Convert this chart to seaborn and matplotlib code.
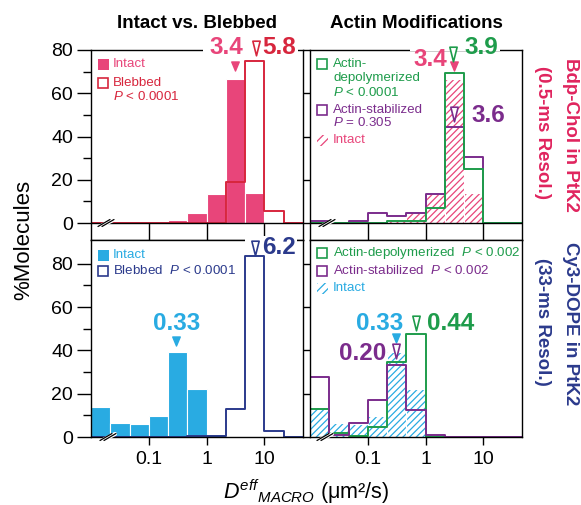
import numpy as np
import matplotlib
matplotlib.use("Agg")
import matplotlib.pyplot as plt
import matplotlib.ticker as mticker
import matplotlib.transforms as mtransforms
from matplotlib.lines import Line2D
from matplotlib.patches import Rectangle
from matplotlib.path import Path
import seaborn as sns

# 1/3-decade bins from 10^-2 to 10^(5/3) um^2/s (edges in log10 units)
log_edges = np.arange(-6, 6) / 3
centres = 10 ** ((log_edges[:-1] + log_edges[1:]) / 2)

# %Molecules per bin, Bdp-Chol (0.5-ms resolution)
bdp_intact = [0, 0, 0, 0, 1.5, 4.6, 13.4, 66.5, 13.8, 0, 0]
bdp_blebbed = [0, 0, 0, 0, 0, 0, 0, 19.0, 75.0, 5.4, 0]
bdp_depol = [0, 0, 0, 0, 1.2, 1.2, 6.9, 69.2, 24.8, 0, 0]
bdp_stab = [1.0, 0, 1.0, 4.9, 3.1, 4.9, 13.4, 44.6, 30.5, 0, 0]

# %Molecules per bin, Cy3-DOPE (33-ms resolution)
dope_intact = [13.9, 6.6, 5.8, 9.5, 39.2, 22.0, 1.5, 0, 0, 0, 0]
dope_blebbed = [0, 0, 0, 0, 0, 0.5, 0.5, 13.1, 83.6, 2.8, 0]
dope_depol = [13.0, 1.8, 0.5, 4.6, 34.6, 47.7, 0, 0, 0, 0, 0]
dope_stab = [27.7, 1.0, 6.5, 17.2, 33.4, 12.6, 0.8, 0, 0, 0, 0]

# median D values shown above the histograms
med_bdp_intact, med_bdp_blebbed = 3.4, 5.8
med_bdp_depol, med_bdp_stab = 3.9, 3.6
med_dope_intact, med_dope_blebbed = 0.33, 6.2
med_dope_depol, med_dope_stab = 0.44, 0.20

PINK = "#E8457A"
RED = "#D7263D"
CYAN = "#29ABE2"
NAVY = "#2B3A8C"
GREEN = "#1E9C4B"
PURPLE = "#7B2C8C"

sns.set_style("ticks")
plt.rcParams["font.family"] = ["Liberation Sans", "DejaVu Sans"]
plt.rcParams["mathtext.fontset"] = "custom"
plt.rcParams["mathtext.rm"] = "Liberation Sans"
plt.rcParams["mathtext.it"] = "Liberation Sans:italic"
plt.rcParams["mathtext.bf"] = "Liberation Sans:bold"
plt.rcParams["axes.edgecolor"] = "black"
plt.rcParams["axes.linewidth"] = 1.0
plt.rcParams["xtick.color"] = "black"
plt.rcParams["ytick.color"] = "black"
plt.rcParams["hatch.linewidth"] = 0.9

W, H = 581, 505
fig = plt.figure(figsize=(W / 100, H / 100), dpi=100)
# pixel coordinates measured from the top-left corner of the image
PX = mtransforms.Affine2D().scale(1 / W, -1 / H).translate(0, 1) + fig.transFigure


def px_box(x0, y0, x1, y1):
    return [x0 / W, 1 - y1 / H, (x1 - x0) / W, (y1 - y0) / H]


ax_tl = fig.add_axes(px_box(91, 50, 303, 240))
ax_tr = fig.add_axes(px_box(310, 50, 522, 240))
ax_bl = fig.add_axes(px_box(91, 240, 303, 437))
ax_br = fig.add_axes(px_box(310, 240, 522, 437))


def hist(ax, values, **kw):
    sns.histplot(x=list(centres), weights=list(values), bins=log_edges.tolist(),
                 log_scale=True, ax=ax, **kw)


def filled(ax, values, color):
    hist(ax, values, element="bars", fill=True, color=color, alpha=1,
         edgecolor="white", linewidth=0.8)


def outline(ax, values, color):
    hist(ax, values, element="step", fill=False, color=color, linewidth=1.4)


def hatched(ax, values, color):
    hist(ax, values, element="bars", fill=True, facecolor="white",
         edgecolor=color, linewidth=0, hatch="/////")
    hist(ax, values, element="bars", fill=False, color="white", linewidth=0.8)


# Bdp-Chol, intact vs blebbed
filled(ax_tl, bdp_intact, PINK)
outline(ax_tl, bdp_blebbed, RED)
# Bdp-Chol, actin modifications
hatched(ax_tr, bdp_intact, PINK)
outline(ax_tr, bdp_stab, PURPLE)
outline(ax_tr, bdp_depol, GREEN)
# Cy3-DOPE, intact vs blebbed
filled(ax_bl, dope_intact, CYAN)
outline(ax_bl, dope_blebbed, NAVY)
# Cy3-DOPE, actin modifications
hatched(ax_br, dope_intact, CYAN)
outline(ax_br, dope_depol, GREEN)
outline(ax_br, dope_stab, PURPLE)

for ax in (ax_tl, ax_tr, ax_bl, ax_br):
    ax.set_xlim(10 ** -2, 10 ** (5 / 3))
    ax.set_xlabel("")
    ax.set_ylabel("")
    ax.set_xticks([0.1, 1, 10])
    ax.xaxis.set_minor_locator(mticker.NullLocator())
    for s in ax.spines.values():
        s.set_visible(True)
        s.set_linewidth(1.0)

for ax in (ax_tl, ax_tr):
    ax.set_ylim(-7.8, 80)
    ax.axhline(0, color="black", lw=1.0, zorder=3)
    ax.tick_params(axis="x", direction="in", length=12.2, width=1.0,
                   labelbottom=False)
for ax in (ax_bl, ax_br):
    ax.set_ylim(0, 91)
    ax.tick_params(axis="x", direction="out", length=5.5, width=1.0,
                   labelsize=14, pad=4.5)
    ax.set_xticklabels(["0.1", "1", "10"])

for ax in (ax_tl, ax_bl):
    ax.set_yticks([0, 20, 40, 60, 80])
    ax.yaxis.set_minor_locator(mticker.FixedLocator([10, 30, 50, 70]))
    ax.tick_params(axis="y", which="major", direction="out", length=10,
                   width=1.0, labelsize=14, pad=3)
    ax.tick_params(axis="y", which="minor", direction="out", length=5.5,
                   width=1.0)
for ax in (ax_tr, ax_br):
    ax.set_yticks([0, 20, 40, 60, 80])
    ax.tick_params(axis="y", direction="out", length=5, width=1.0,
                   labelleft=False)
ax_tl.set_xticklabels([])
ax_tr.set_xticklabels([])


def ftext(x, y, s, color="black", size=9.6, weight="normal", ha="left",
          va="center", **kw):
    fig.text(x, y, s, transform=PX, color=color, fontsize=size,
             fontweight=weight, ha=ha, va=va, zorder=6, **kw)


def white_gap(x0, y0, x1, y1):
    fig.add_artist(Rectangle((x0, y0), x1 - x0, y1 - y0, transform=PX,
                             facecolor="white", edgecolor="none", zorder=4))


TRI_FILLED = Path([(-0.5, 0.6), (0.5, 0.6), (0, -0.6), (-0.5, 0.6)],
                  closed=True)
TRI_OPEN = Path([(-0.5, 1), (0.5, 1), (0, -1), (-0.5, 1)], closed=True)
VAL = 17.5  # size of the median labels


def median_mark(ax, value, y_px, color, solid, dx_px=0):
    # x anchored on the median value, nudged like the figure; y in pixels
    xt = ax.transData + mtransforms.ScaledTranslation(dx_px / 100, 0,
                                                     fig.dpi_scale_trans)
    tr = mtransforms.blended_transform_factory(xt, fig.transFigure)
    if solid:
        m = Line2D([value], [1 - y_px / H], marker=TRI_FILLED, ms=6.5,
                   color=color, mec=color, mfc=color, ls="none",
                   transform=tr, zorder=7)
    else:
        m = Line2D([value], [1 - y_px / H], marker=TRI_OPEN, ms=10.5,
                   color=color, mec=color, mfc="white", mew=1.2, ls="none",
                   transform=tr, zorder=7)
    fig.add_artist(m)


def square(x, y, color, solid=False, hatch=None):
    s = 11
    if hatch:
        r = Rectangle((x - s / 2, y - s / 2), s, s, transform=PX,
                      facecolor="white", edgecolor=color, linewidth=0,
                      hatch=hatch, zorder=6)
    elif solid:
        r = Rectangle((x - s / 2, y - s / 2), s, s, transform=PX,
                      facecolor=color, edgecolor=color, linewidth=0, zorder=6)
    else:
        r = Rectangle((x - s / 2 + 0.6, y - s / 2 + 0.6), s - 1.2, s - 1.2,
                      transform=PX, facecolor="white", edgecolor=color,
                      linewidth=1.2, zorder=6)
    fig.add_artist(r)


# medians, top-left
white_gap(203, 36, 298, 56)
ftext(226, 47, f"{med_bdp_intact}", PINK, VAL, "bold", ha="center")
median_mark(ax_tl, med_bdp_intact, 66, PINK, True, -2)
median_mark(ax_tl, med_bdp_blebbed, 48, RED, False, 5)
ftext(279, 47, f"{med_bdp_blebbed}", RED, VAL, "bold", ha="center")

# medians, top-right
white_gap(410, 36, 500, 50.5)
ftext(430, 59, f"{med_bdp_intact}", PINK, VAL, "bold", ha="center")
median_mark(ax_tr, med_bdp_intact, 66, PINK, True, -2.5)
median_mark(ax_tr, med_bdp_depol, 54, GREEN, False, -6.5)
ftext(481, 48, f"{med_bdp_depol}", GREEN, VAL, "bold", ha="center")
median_mark(ax_tr, med_bdp_stab, 114, PURPLE, False, -3.5)
ftext(488, 115, f"{med_bdp_stab}", PURPLE, VAL, "bold", ha="center")

# medians, bottom-left
white_gap(245, 236, 297, 244)
ftext(177, 323, f"{med_dope_intact}", CYAN, VAL, "bold", ha="center")
median_mark(ax_bl, med_dope_intact, 341, CYAN, True, -2.5)
median_mark(ax_bl, med_dope_blebbed, 248, NAVY, False, 3)
ftext(279, 247, f"{med_dope_blebbed}", NAVY, VAL, "bold", ha="center")

# medians, bottom-right
ftext(380, 323, f"{med_dope_intact}", CYAN, VAL, "bold", ha="center")
median_mark(ax_br, med_dope_intact, 338, CYAN, True, -2)
median_mark(ax_br, med_dope_stab, 351, PURPLE, False, 11)
ftext(363, 353, f"{med_dope_stab:.2f}", PURPLE, VAL, "bold", ha="center")
median_mark(ax_br, med_dope_depol, 323, GREEN, False, 11)
ftext(451, 323, f"{med_dope_depol}", GREEN, VAL, "bold", ha="center")

# legends
square(103, 64, PINK, solid=True)
ftext(113, 64, "Intact", PINK)
square(103, 83, RED)
ftext(113, 83, "Blebbed", RED)
ftext(113, 97, "$P$ < 0.0001", RED)

square(322, 64, GREEN)
ftext(333, 64, "Actin-", GREEN)
ftext(333, 78, "depolymerized", GREEN)
ftext(333, 92, "$P$ < 0.0001", GREEN)
square(322, 110, PURPLE)
ftext(333, 110, "Actin-stabilized", PURPLE)
ftext(333, 123, "$P$ = 0.305", PURPLE)
square(322, 140, PINK, hatch="////")
ftext(333, 140, "Intact", PINK)

square(103, 255, CYAN, solid=True)
ftext(113, 255, "Intact", CYAN)
square(103, 271, NAVY)
ftext(113, 271, "Blebbed  $P$ < 0.0001", NAVY)

square(322, 253, GREEN)
ftext(333, 253, "Actin-depolymerized  $P$ < 0.002", GREEN)
square(322, 271, PURPLE)
ftext(333, 271, "Actin-stabilized  $P$ < 0.002", PURPLE)
square(322, 288, CYAN, hatch="////")
ftext(333, 288, "Intact", CYAN)

# axis breaks
for ax, (cx, cy) in ((ax_tl, (106, 223)), (ax_tr, (327, 223)),
                     (ax_bl, (108, 437)), (ax_br, (325, 437))):
    fig.add_artist(Line2D([cx - 5, cx + 7], [cy + 3, cy - 3], transform=PX,
                          color="white", lw=3, zorder=5))
    for dx in (-2, 2):
        fig.add_artist(Line2D([cx - 6 + dx, cx + 6 + dx], [cy + 3.5, cy - 3.5],
                              transform=PX, color="black", lw=0.9, zorder=6))

# titles and axis labels
ftext(197, 23, "Intact vs. Blebbed", size=13.5, weight="bold", ha="center")
ftext(416, 23, "Actin Modifications", size=13.5, weight="bold", ha="center")
ftext(24, 240, "%Molecules", size=16, ha="center", rotation=90)
ftext(306, 499, "$D^{eff}{}_{MACRO}$ (μm²/s)", size=15.5, ha="center",
      va="baseline")
ftext(570, 135, "Bdp-Chol in PtK2", "#E0245E", 13.5, "bold", ha="center",
      rotation=-90)
ftext(543, 133, "(0.5-ms Resol.)", "#E0245E", 13.5, "bold", ha="center",
      rotation=-90)
ftext(570, 324, "Cy3-DOPE in PtK2", NAVY, 13.5, "bold", ha="center",
      rotation=-90)
ftext(543, 322, "(33-ms Resol.)", NAVY, 13.5, "bold", ha="center",
      rotation=-90)

fig.savefig("out.png", dpi=100)
plt.close(fig)
